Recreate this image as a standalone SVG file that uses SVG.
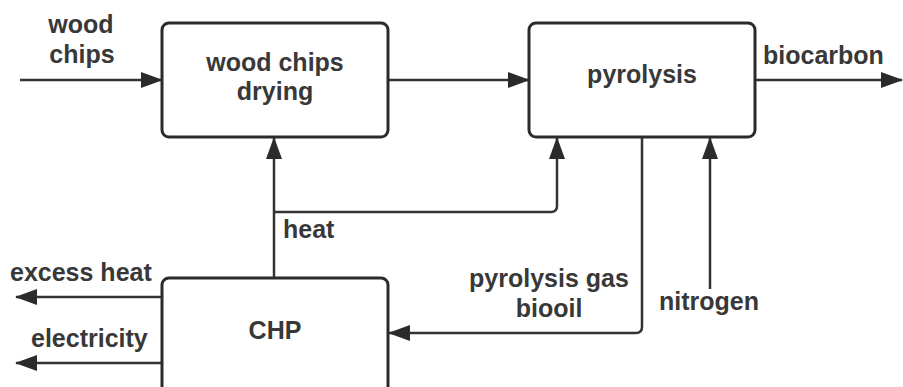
<svg xmlns="http://www.w3.org/2000/svg" width="903" height="387" viewBox="0 0 903 387">
<defs>
<style>
.box{fill:#fff;stroke:#2b2b2b;stroke-width:3}
.c{fill:none;stroke:#333;stroke-width:2.5;stroke-linejoin:round}
.t{font-family:"Liberation Sans",Arial,sans-serif;font-weight:bold;font-size:25px;fill:#383838}
.m{text-anchor:middle}
</style>
<marker id="ah" markerUnits="userSpaceOnUse" markerWidth="22" markerHeight="16" viewBox="0 0 22 16" refX="21" refY="8" orient="auto">
<path d="M0,0 L22,8 L0,16 Z" fill="#2b2b2b"/>
</marker>
</defs>
<rect width="903" height="387" fill="#fff"/>
<g id="connectors">
<path class="c" d="M20,80 H162" marker-end="url(#ah)"/>
<path class="c" d="M388,80 H529" marker-end="url(#ah)"/>
<path class="c" d="M755,80 H902" marker-end="url(#ah)"/>
<path class="c" d="M274,278 V138" marker-end="url(#ah)"/>
<path class="c" d="M274,212 H551 Q557,212 557,206 V138" marker-end="url(#ah)"/>
<path class="c" d="M642,137 V327 Q642,333 636,333 H389" marker-end="url(#ah)"/>
<path class="c" d="M710,289 V138" marker-end="url(#ah)"/>
<path class="c" d="M162,297 H16" marker-end="url(#ah)"/>
<path class="c" d="M162,363 H16" marker-end="url(#ah)"/>
<text class="t m" x="81" y="33">wood</text>
<text class="t m" x="82" y="63">chips</text>
<text class="t" x="763" y="64">biocarbon</text>
<text class="t" x="283" y="238">heat</text>
<text class="t" x="10" y="281">excess heat</text>
<text class="t" x="31" y="347">electricity</text>
<text class="t m" x="549" y="287">pyrolysis gas</text>
<text class="t m" x="549" y="317">biooil</text>
<text class="t m" x="709" y="310">nitrogen</text>
</g>
<g id="drying">
<rect class="box" x="162" y="23" width="226" height="114" rx="7"/>
<text class="t m" x="275" y="71">wood chips</text>
<text class="t m" x="275" y="100">drying</text>
</g>
<g id="pyrolysis">
<rect class="box" x="529" y="23" width="226" height="114" rx="7"/>
<text class="t m" x="642" y="83">pyrolysis</text>
</g>
<g id="chp">
<rect class="box" x="162" y="278" width="226" height="120" rx="7"/>
<text class="t m" x="275" y="339">CHP</text>
</g>
</svg>
